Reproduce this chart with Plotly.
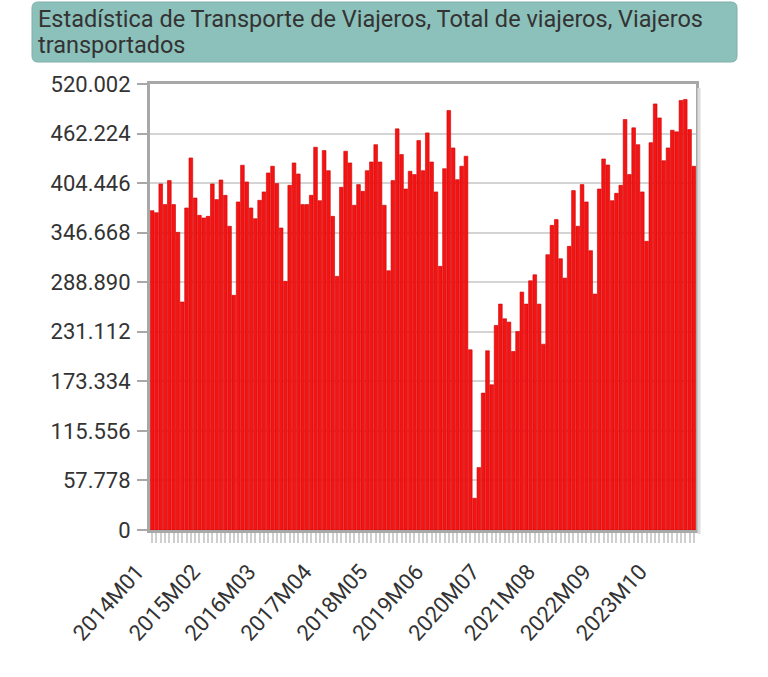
import plotly.graph_objects as go

# Categories: monthly periods 2014M01 .. 2024M07
CATEGORIES = [f"{y}M{m:02d}" for y in range(2014, 2025) for m in range(1, 13)][:127]

# Viajeros transportados
VALUES = [
    372300, 370000, 403500, 379400, 407400, 379400, 347100, 265800, 375500, 433800, 387100, 366900,
    363800, 365700, 403500, 385200, 408100, 390200, 354100, 273600, 382500, 425300, 405800, 375500,
    363000, 384400, 394200, 416300, 424100, 403900, 352100, 289900, 401900, 428000, 415100, 379400,
    379400, 390200, 446300, 384000, 442400, 419000, 365700, 295700, 399600, 441600, 428000, 378600,
    402700, 394900, 419000, 429100, 449300, 429100, 378600, 302300, 407400, 467700, 437700, 397600,
    418300, 414400, 454000, 419000, 463000, 429100, 394200, 307400, 421300, 489100, 445500, 408500,
    424100, 435800, 210100, 37000, 72800, 159600, 209000, 169300, 238500, 263400, 246300, 242400,
    208100, 231500, 277400, 263400, 290600, 297600, 263400, 216700, 321000, 355200, 361900, 316300,
    293700, 330700, 395700, 354100, 402700, 382500, 325700, 275100, 397600, 432600, 425600, 384000,
    392600, 401900, 478600, 414400, 468900, 449300, 394200, 336600, 451600, 496800, 480500, 430600,
    445500, 466100, 464200, 500700, 501900, 466900, 424100,
]

X_TICK_LABELS = ["2014M01", "2015M02", "2016M03", "2017M04", "2018M05",
                 "2019M06", "2020M07", "2021M08", "2022M09", "2023M10"]
Y_TICKS = [0, 57778, 115556, 173334, 231112, 288890, 346668, 404446, 462224, 520002]

TITLE_LINES = ["Estadística de Transporte de Viajeros, Total de viajeros, Viajeros",
               "transportados"]

W, H = 768, 677
ML, MR, MT, MB = 150, 72, 84, 147
PW, PH = W - ML - MR, H - MT - MB


def px_x(p):
    return (p - ML) / PW


def px_y(p):
    return (H - MB - p) / PH


fig = go.Figure()
fig.add_trace(go.Bar(
    x=CATEGORIES, y=VALUES,
    marker=dict(color="#f41414", line=dict(color="#d00000", width=0.6)),
    hoverinfo="x+y",
))

ticktext = [c if c in X_TICK_LABELS else "" for c in CATEGORIES]

# title box with rounded corners
x0, x1, y0, y1, r = 32, 737, 2, 62, 6
path = (f"M {px_x(x0 + r)},{px_y(y0)} L {px_x(x1 - r)},{px_y(y0)} "
        f"Q {px_x(x1)},{px_y(y0)} {px_x(x1)},{px_y(y0 + r)} "
        f"L {px_x(x1)},{px_y(y1 - r)} Q {px_x(x1)},{px_y(y1)} {px_x(x1 - r)},{px_y(y1)} "
        f"L {px_x(x0 + r)},{px_y(y1)} Q {px_x(x0)},{px_y(y1)} {px_x(x0)},{px_y(y1 - r)} "
        f"L {px_x(x0)},{px_y(y0 + r)} Q {px_x(x0)},{px_y(y0)} {px_x(x0 + r)},{px_y(y0)} Z")

title_annots = [
    dict(text=TITLE_LINES[0], xref="paper", yref="paper", x=px_x(36), y=px_y(19),
         xanchor="left", yanchor="middle", align="left", showarrow=False,
         font=dict(family="Roboto", size=23.5, color="#333")),
    dict(text=TITLE_LINES[1], xref="paper", yref="paper", x=px_x(36), y=px_y(45),
         xanchor="left", yanchor="middle", align="left", showarrow=False,
         font=dict(family="Roboto", size=23.5, color="#333")),
]

fig.update_layout(
    width=W, height=H,
    margin=dict(l=ML, r=MR, t=MT, b=MB),
    paper_bgcolor="white", plot_bgcolor="white",
    separators=",.",
    showlegend=False,
    bargap=0.14,
    font=dict(family="Roboto", size=19, color="#444"),
    shapes=[
        dict(type="path", path=path, xref="paper", yref="paper",
             fillcolor="#8cc0ba", line=dict(color="#7fb0aa", width=1), layer="below"),
        # soft shadow on the right side of the plot frame
        dict(type="line", xref="paper", yref="paper",
             x0=px_x(699), x1=px_x(699), y0=px_y(88), y1=px_y(534),
             line=dict(color="#dddddd", width=3)),
    ],
    annotations=title_annots,
    xaxis=dict(
        type="category",
        tickmode="array", tickvals=CATEGORIES, ticktext=ticktext,
        tickangle=-48,
        ticks="outside", ticklen=10, tickwidth=2, tickcolor="#cfcfcf",
        ticklabelstandoff=7, ticklabelshift=-15,
        showline=True, linecolor="#a8a8a8", linewidth=3, mirror=True,
        showgrid=False, zeroline=False,
        tickfont=dict(family="Roboto", size=22, color="#333"),
    ),
    yaxis=dict(
        range=[0, 520002],
        tickmode="array", tickvals=Y_TICKS, tickformat=",d",
        ticks="outside", ticklen=10, tickwidth=2, tickcolor="#a8a8a8",
        ticklabelstandoff=2,
        showline=True, linecolor="#a8a8a8", linewidth=3, mirror=True,
        showgrid=True, gridcolor="#d4d4d4", gridwidth=2,
        zeroline=False,
        tickfont=dict(family="Roboto", size=22, color="#333"),
    ),
)

fig.write_html("out.html")
